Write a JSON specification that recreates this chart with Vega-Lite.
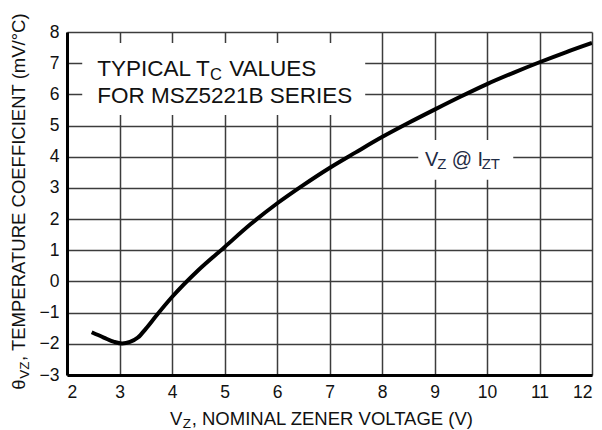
{
  "$schema": "https://vega.github.io/schema/vega-lite/v6.json",
  "width": 525,
  "height": 343,
  "autosize": {"type": "none"},
  "padding": {"left": 67, "top": 32, "right": 10, "bottom": 55},
  "background": "white",
  "config": {
    "view": {"stroke": null},
    "font": "Liberation Sans",
    "axis": {
      "labelFont": "Liberation Sans",
      "labelFontSize": 17.5,
      "labelColor": "#111111",
      "labelOverlap": false,
      "labelBound": false,
      "grid": true,
      "gridColor": "#3c3c3c",
      "gridWidth": 1.5,
      "gridOpacity": 1,
      "domain": true,
      "domainColor": "#000000",
      "domainWidth": 3,
      "ticks": false,
      "labelPadding": 8,
      "title": null
    }
  },
  "datasets": {
    "curve": [
      {"x": 2.47, "y": -1.63},
      {"x": 2.7, "y": -1.8},
      {"x": 2.9, "y": -1.94},
      {"x": 3.05, "y": -1.99},
      {"x": 3.2, "y": -1.94},
      {"x": 3.35, "y": -1.8},
      {"x": 3.5, "y": -1.52},
      {"x": 3.7, "y": -1.1},
      {"x": 4.0, "y": -0.5},
      {"x": 4.5, "y": 0.36},
      {"x": 5.0, "y": 1.1},
      {"x": 5.5, "y": 1.84},
      {"x": 6.0, "y": 2.5},
      {"x": 6.5, "y": 3.09},
      {"x": 7.0, "y": 3.64},
      {"x": 7.5, "y": 4.14},
      {"x": 8.0, "y": 4.63},
      {"x": 8.5, "y": 5.08},
      {"x": 9.0, "y": 5.51},
      {"x": 9.5, "y": 5.93},
      {"x": 10.0, "y": 6.33},
      {"x": 10.5, "y": 6.69},
      {"x": 11.0, "y": 7.03},
      {"x": 11.5, "y": 7.35},
      {"x": 12.0, "y": 7.65}
    ],
    "boxes": [
      {"x": 2.29, "xe": 7.68, "y": 7.65, "ye": 5.34},
      {"x": 8.69, "xe": 10.5, "y": 4.54, "ye": 3.26}
    ],
    "mainText": [
      {"x": 2.577, "y": 6.574, "t": "TYPICAL T"},
      {"x": 5.09, "y": 6.574, "t": "VALUES"},
      {"x": 2.577, "y": 5.708, "t": "FOR MSZ5221B SERIES"}
    ],
    "mainSub": [
      {"x": 4.725, "y": 6.462, "t": "C"}
    ],
    "vzText": [
      {"x": 8.819, "y": 3.705, "t": "V"},
      {"x": 9.328, "y": 3.705, "t": "@ I"}
    ],
    "vzSub": [
      {"x": 9.053, "y": 3.599, "t": "Z"},
      {"x": 9.899, "y": 3.599, "t": "ZT"}
    ],
    "xTitle": [
      {"x": 3.962, "y": -4.596, "t": "V"},
      {"x": 4.375, "y": -4.596, "t": ", NOMINAL ZENER VOLTAGE (V)"}
    ],
    "xTitleSub": [
      {"x": 4.204, "y": -4.692, "t": "Z"}
    ],
    "yTitle": [
      {"x": 1.2, "y": -3.47, "t": "θ"},
      {"x": 1.2, "y": -2.55, "t": ", TEMPERATURE COEFFICIENT (mV/°C)"}
    ],
    "yTitleSub": [
      {"x": 1.267, "y": -3.12, "t": "VZ"}
    ]
  },
  "encoding": {
    "x": {
      "field": "x",
      "type": "quantitative",
      "scale": {"domain": [2, 12], "nice": false, "zero": false},
      "axis": {"values": [2, 3, 4, 5, 6, 7, 8, 9, 10, 11, 12], "orient": "bottom"}
    },
    "y": {
      "field": "y",
      "type": "quantitative",
      "scale": {"domain": [-3, 8], "nice": false, "zero": false},
      "axis": {"values": [-3, -2, -1, 0, 1, 2, 3, 4, 5, 6, 7, 8], "orient": "left"}
    }
  },
  "layer": [
    {
      "data": {"name": "boxes"},
      "mark": {"type": "rect", "fill": "white"},
      "encoding": {
        "x2": {"field": "xe"},
        "y2": {"field": "ye"}
      }
    },
    {
      "data": {"name": "curve"},
      "mark": {"type": "line", "color": "#000000", "strokeWidth": 4, "interpolate": "monotone", "clip": true},
      "encoding": {}
    },
    {
      "data": {"name": "mainText"},
      "mark": {"type": "text", "font": "Liberation Sans", "fontSize": 22.5, "align": "left", "baseline": "alphabetic", "color": "#111111"},
      "encoding": {"text": {"field": "t"}}
    },
    {
      "data": {"name": "mainSub"},
      "mark": {"type": "text", "font": "Liberation Sans", "fontSize": 16.5, "align": "left", "baseline": "alphabetic", "color": "#111111"},
      "encoding": {"text": {"field": "t"}}
    },
    {
      "data": {"name": "vzText"},
      "mark": {"type": "text", "font": "Liberation Sans", "fontSize": 20, "align": "left", "baseline": "alphabetic", "color": "#1f2b45"},
      "encoding": {"text": {"field": "t"}}
    },
    {
      "data": {"name": "vzSub"},
      "mark": {"type": "text", "font": "Liberation Sans", "fontSize": 15, "align": "left", "baseline": "alphabetic", "color": "#1f2b45"},
      "encoding": {"text": {"field": "t"}}
    },
    {
      "data": {"name": "xTitle"},
      "mark": {"type": "text", "font": "Liberation Sans", "fontSize": 18.5, "align": "left", "baseline": "alphabetic", "color": "#111111"},
      "encoding": {"text": {"field": "t"}}
    },
    {
      "data": {"name": "xTitleSub"},
      "mark": {"type": "text", "font": "Liberation Sans", "fontSize": 13.5, "align": "left", "baseline": "alphabetic", "color": "#111111"},
      "encoding": {"text": {"field": "t"}}
    },
    {
      "data": {"name": "yTitle"},
      "mark": {"type": "text", "font": "Liberation Sans", "fontSize": 18.5, "align": "left", "baseline": "alphabetic", "angle": 270, "color": "#111111"},
      "encoding": {"text": {"field": "t"}}
    },
    {
      "data": {"name": "yTitleSub"},
      "mark": {"type": "text", "font": "Liberation Sans", "fontSize": 13.5, "align": "left", "baseline": "alphabetic", "angle": 270, "color": "#111111"},
      "encoding": {"text": {"field": "t"}}
    }
  ]
}
